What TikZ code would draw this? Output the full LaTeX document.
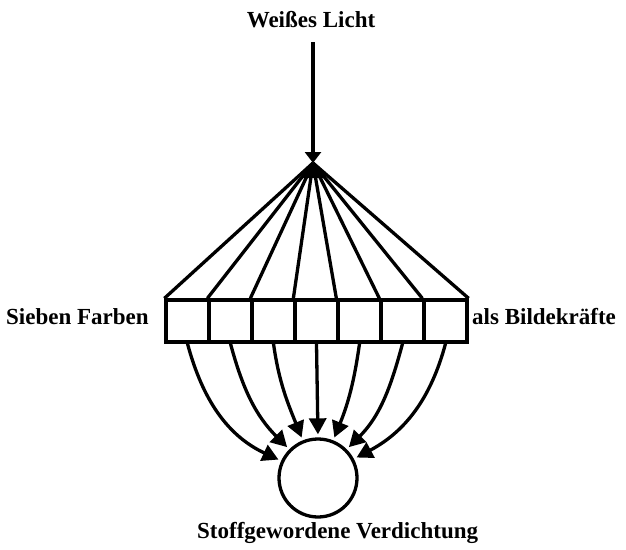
\documentclass[tikz,border=0pt]{standalone}
\usepackage{fontspec}
\setmainfont{Liberation Serif}
\usetikzlibrary{arrows.meta}
\begin{document}
\begin{tikzpicture}[x=1pt,y=-1pt,
  lbl/.style={font=\fontsize{23}{27}\selectfont\bfseries, inner sep=0pt},
  cell/.style={draw, line width=3.3pt, minimum width=43pt, minimum height=42pt, inner sep=0pt},
  ray/.style={line width=3.3pt},
  flow/.style={line width=3.3pt, -{Triangle[length=16pt,width=17pt]}, shorten >=3pt}]
\useasboundingbox (0,0) rectangle (626,549);
% labels
\node[lbl, anchor=base] (wl) at (311,27) {Weißes Licht};
\node[lbl, anchor=base west] (sf) at (6,324) {Sieben Farben};
\node[lbl, anchor=base west] (bk) at (472,324) {als Bildekräfte};
\node[lbl, anchor=base west] (sv) at (197,538) {Stoffgewordene Verdichtung};
% top arrow
\coordinate (top) at (313,42);
\coordinate (apex) at (313,163);
\draw[line width=3.3pt, -{Triangle[length=11pt,width=16pt]}] (top) -- (apex);
% cells
\foreach \i in {1,...,7} \node[cell] (b\i) at ({187.5+43*(\i-1)},321) {};
% fan
\foreach \i in {1,...,7} \draw[ray] (apex) -- (b\i.north west);
\draw[ray] (apex) -- (b7.north east);
\fill (apex) -- (302,178) -- (324,178) -- cycle;
% circle
\node[circle, draw, line width=3.3pt, minimum size=78pt, inner sep=0pt] (circ) at (318,478) {};
% flows
\draw[flow] (b1.south) to[out=-75, in=155] (circ.155);
\draw[flow] (b2.south) to[out=-75, in=135] (circ.135);
\draw[flow] (b3.south) to[out=-82, in=112] (circ.112);
\draw[flow] (b4.south) -- (circ.north);
\draw[flow] (b5.south) to[out=-98, in=68] (circ.68);
\draw[flow] (b6.south) to[out=-105, in=45] (circ.45);
\draw[flow] (b7.south) to[out=-105, in=28] (circ.28);
\end{tikzpicture}
\end{document}
